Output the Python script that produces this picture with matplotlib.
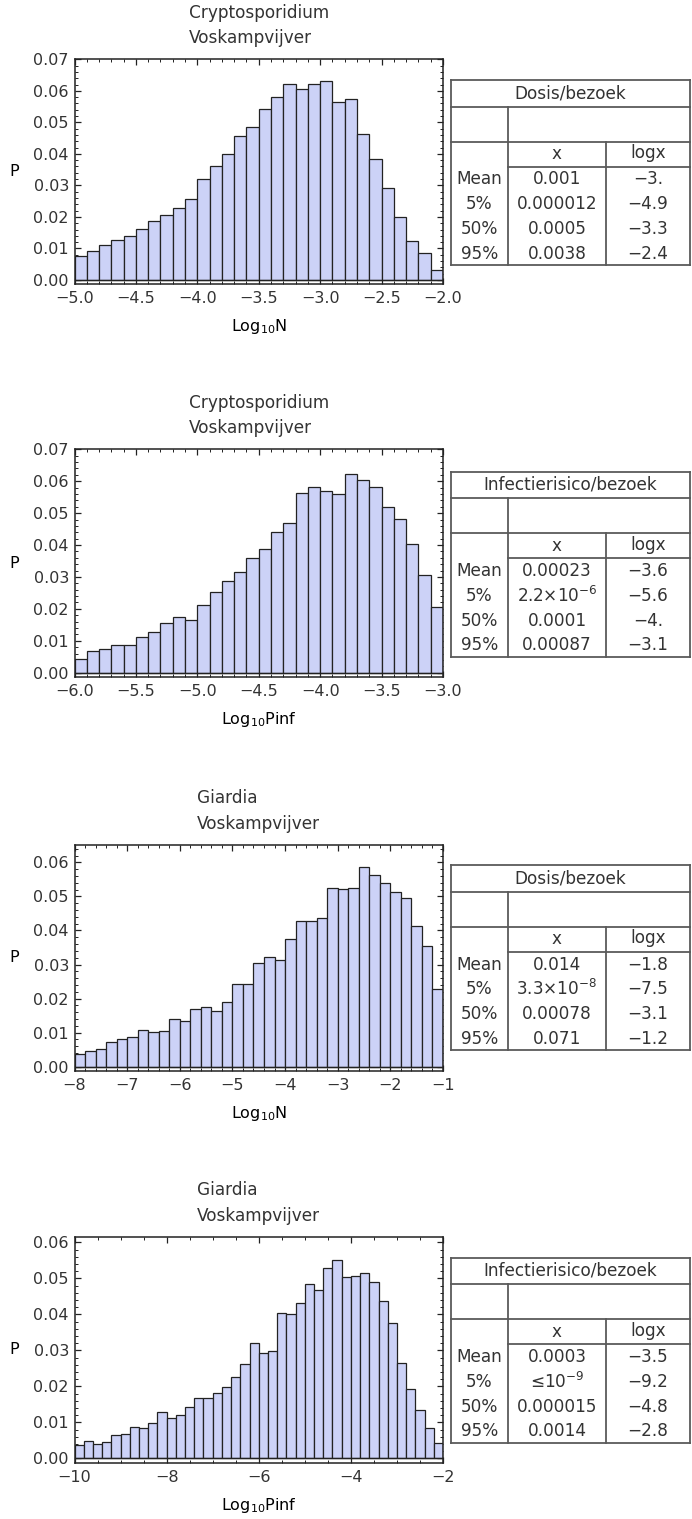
import numpy as np
import matplotlib as mpl
import matplotlib.pyplot as plt
from matplotlib.ticker import MultipleLocator, FuncFormatter

plt.rcParams.update({
    "font.family": "DejaVu Sans",
    "mathtext.default": "regular",
    "font.size": 11.5,
    "text.color": "#333333",
    "xtick.color": "#222222",
    "ytick.color": "#222222",
    "xtick.labelcolor": "#333333",
    "ytick.labelcolor": "#333333",
    "xtick.direction": "in",
    "ytick.direction": "in",
    "xtick.top": True,
    "ytick.right": True,
})

BAR_FILL = "#CCD2F7"
BAR_EDGE = "#222222"
GRID_LINE = "#5a5a5a"

# histogram values (probability per bin)
crypto_dose = [0.0076, 0.0091, 0.0112, 0.0126, 0.0138, 0.0161, 0.0187, 0.0205, 0.0227, 0.0258,
               0.0321, 0.0360, 0.0401, 0.0458, 0.0484, 0.0542, 0.0582, 0.0622, 0.0605, 0.0622,
               0.0631, 0.0564, 0.0573, 0.0462, 0.0383, 0.0293, 0.0200, 0.0125, 0.0085, 0.0033]
crypto_pinf = [0.0042, 0.0069, 0.0073, 0.0087, 0.0087, 0.0113, 0.0126, 0.0157, 0.0175, 0.0165,
               0.0213, 0.0253, 0.0288, 0.0315, 0.0358, 0.0389, 0.0442, 0.0469, 0.0564, 0.0582,
               0.0569, 0.0561, 0.0622, 0.0603, 0.0582, 0.0520, 0.0481, 0.0402, 0.0305, 0.0206]
giardia_dose = [0.0038, 0.0045, 0.0052, 0.0073, 0.0080, 0.0086, 0.0109, 0.0102, 0.0105, 0.0141,
                0.0133, 0.0170, 0.0176, 0.0165, 0.0190, 0.0243, 0.0243, 0.0305, 0.0322, 0.0313,
                0.0374, 0.0427, 0.0427, 0.0436, 0.0526, 0.0522, 0.0526, 0.0587, 0.0562, 0.0538,
                0.0513, 0.0494, 0.0412, 0.0354, 0.0227]
giardia_pinf = [0.0036, 0.0048, 0.0040, 0.0045, 0.0064, 0.0069, 0.0088, 0.0085, 0.0097, 0.0129,
                0.0112, 0.0120, 0.0144, 0.0168, 0.0168, 0.0182, 0.0197, 0.0227, 0.0262, 0.0320,
                0.0293, 0.0297, 0.0405, 0.0401, 0.0432, 0.0484, 0.0468, 0.0529, 0.0552, 0.0505,
                0.0508, 0.0514, 0.0491, 0.0437, 0.0375, 0.0266, 0.0192, 0.0134, 0.0084, 0.0043]

# summary tables
row_labels = ["Mean", "5%", "50%", "95%"]
crypto_dose_x = ["0.001", "0.000012", "0.0005", "0.0038"]
crypto_dose_log = ["\u22123.", "\u22124.9", "\u22123.3", "\u22122.4"]
crypto_pinf_x = ["0.00023", r"2.2$\times$10$^{-6}$", "0.0001", "0.00087"]
crypto_pinf_log = ["\u22123.6", "\u22125.6", "\u22124.", "\u22123.1"]
giardia_dose_x = ["0.014", r"3.3$\times$10$^{-8}$", "0.00078", "0.071"]
giardia_dose_log = ["\u22121.8", "\u22127.5", "\u22123.1", "\u22121.2"]
giardia_pinf_x = ["0.0003", "\u226410$^{-9}$", "0.000015", "0.0014"]
giardia_pinf_log = ["\u22123.5", "\u22129.2", "\u22124.8", "\u22122.8"]

W, H = 692, 1519
fig = plt.figure(figsize=(W / 100, H / 100), dpi=100)
TABLE_FS = 12.2


def px_axes(left, top, right, bottom):
    return fig.add_axes([left / W, 1 - bottom / H, (right - left) / W, (bottom - top) / H])


def minus_fmt(fmt):
    return FuncFormatter(lambda v, pos: (fmt % v).replace("-", "\u2212"))


def draw_hist(top, bottom, values, xrange, ylim, xmajor, xminor, xfmt, organism, xlabel):
    ax = px_axes(74.5, top, 443, bottom)
    edges = np.linspace(xrange[0], xrange[1], len(values) + 1)
    ax.bar(edges[:-1], values, width=np.diff(edges), align="edge",
           color=BAR_FILL, edgecolor=BAR_EDGE, linewidth=0.9, zorder=2)
    ax.axhline(0, color="#222222", linewidth=1.0, zorder=3)
    ax.set_xlim(*xrange)
    ax.set_ylim(*ylim)
    ax.xaxis.set_major_locator(MultipleLocator(xmajor))
    ax.xaxis.set_minor_locator(MultipleLocator(xminor))
    ax.xaxis.set_major_formatter(minus_fmt(xfmt))
    ax.yaxis.set_major_locator(MultipleLocator(0.01))
    ax.yaxis.set_minor_locator(MultipleLocator(0.002))
    ax.yaxis.set_major_formatter(minus_fmt("%.2f"))
    ax.tick_params(which="major", length=4, width=0.9)
    ax.tick_params(which="minor", length=2, width=0.7)
    ax.tick_params(axis="x", pad=5)
    ax.tick_params(axis="y", pad=4)
    for s in ax.spines.values():
        s.set_color("#222222")
        s.set_linewidth(1.1)
    ax.set_title(organism + "\nVoskampvijver", pad=11.5, multialignment="left",
                 linespacing=1.55, fontsize=12.2)
    ax.set_ylabel("P", rotation=0, ha="center", va="center")
    ax.yaxis.set_label_coords(-0.164, 0.5)
    ax.set_xlabel(xlabel, va="center")
    ax.xaxis.set_label_coords(0.5, -43 / (bottom - top))
    return ax


overlay = fig.add_axes([0, 0, 1, 1])
overlay.set_xlim(0, W)
overlay.set_ylim(H, 0)
overlay.axis("off")


def draw_table(top, title, xs, logs):
    L, C1, C2, R = 451, 508, 606, 690
    y_title = top + 26.5
    y_blank = y_title + 35
    y_head = y_blank + 25
    y_bot = y_head + 98.5
    kw = dict(color=GRID_LINE, linewidth=1.3)
    overlay.plot([L, R], [top, top], **kw)
    overlay.plot([L, R], [y_title, y_title], **kw)
    overlay.plot([L, R], [y_blank, y_blank], **kw)
    overlay.plot([C1, R], [y_head, y_head], **kw)
    overlay.plot([L, R], [y_bot, y_bot], **kw)
    overlay.plot([L, L], [top, y_bot], **kw)
    overlay.plot([R, R], [top, y_bot], **kw)
    overlay.plot([C1, C1], [y_title, y_bot], **kw)
    overlay.plot([C2, C2], [y_blank, y_bot], **kw)
    overlay.text((L + R) / 2, (top + y_title) / 2, title, ha="center", va="center", fontsize=TABLE_FS)
    overlay.text((C1 + C2) / 2, (y_blank + y_head) / 2, "x", ha="center", va="center", fontsize=TABLE_FS)
    overlay.text((C2 + R) / 2, (y_blank + y_head) / 2 - 1, "logx", ha="center", va="center", fontsize=TABLE_FS)
    for i, (lab, xv, lv) in enumerate(zip(row_labels, xs, logs)):
        y = y_head + 13 + 24.7 * i
        overlay.text((L + C1) / 2, y, lab, ha="center", va="center", fontsize=TABLE_FS)
        overlay.text((C1 + C2) / 2, y, xv, ha="center", va="center", fontsize=TABLE_FS)
        overlay.text((C2 + R) / 2, y, lv, ha="center", va="center", fontsize=TABLE_FS)


draw_hist(59.3, 284, crypto_dose, (-5.0, -2.0), (-0.00127, 0.07), 0.5, 0.1, "%.1f",
          "Cryptosporidium", "Log$_{10}$N")
draw_hist(449.3, 677, crypto_pinf, (-6.0, -3.0), (-0.00135, 0.07), 0.5, 0.1, "%.1f",
          "Cryptosporidium", "Log$_{10}$Pinf")
draw_hist(845, 1070.7, giardia_dose, (-8, -1), (-0.00117, 0.0651), 1, 0.2, "%d",
          "Giardia", "Log$_{10}$N")
draw_hist(1237, 1462.7, giardia_pinf, (-10, -2), (-0.0012, 0.0615), 2, 0.5, "%d",
          "Giardia", "Log$_{10}$Pinf")

draw_table(80, "Dosis/bezoek", crypto_dose_x, crypto_dose_log)
draw_table(471.7, "Infectierisico/bezoek", crypto_pinf_x, crypto_pinf_log)
draw_table(865, "Dosis/bezoek", giardia_dose_x, giardia_dose_log)
draw_table(1257.7, "Infectierisico/bezoek", giardia_pinf_x, giardia_pinf_log)

fig.savefig("out.png", dpi=100)
